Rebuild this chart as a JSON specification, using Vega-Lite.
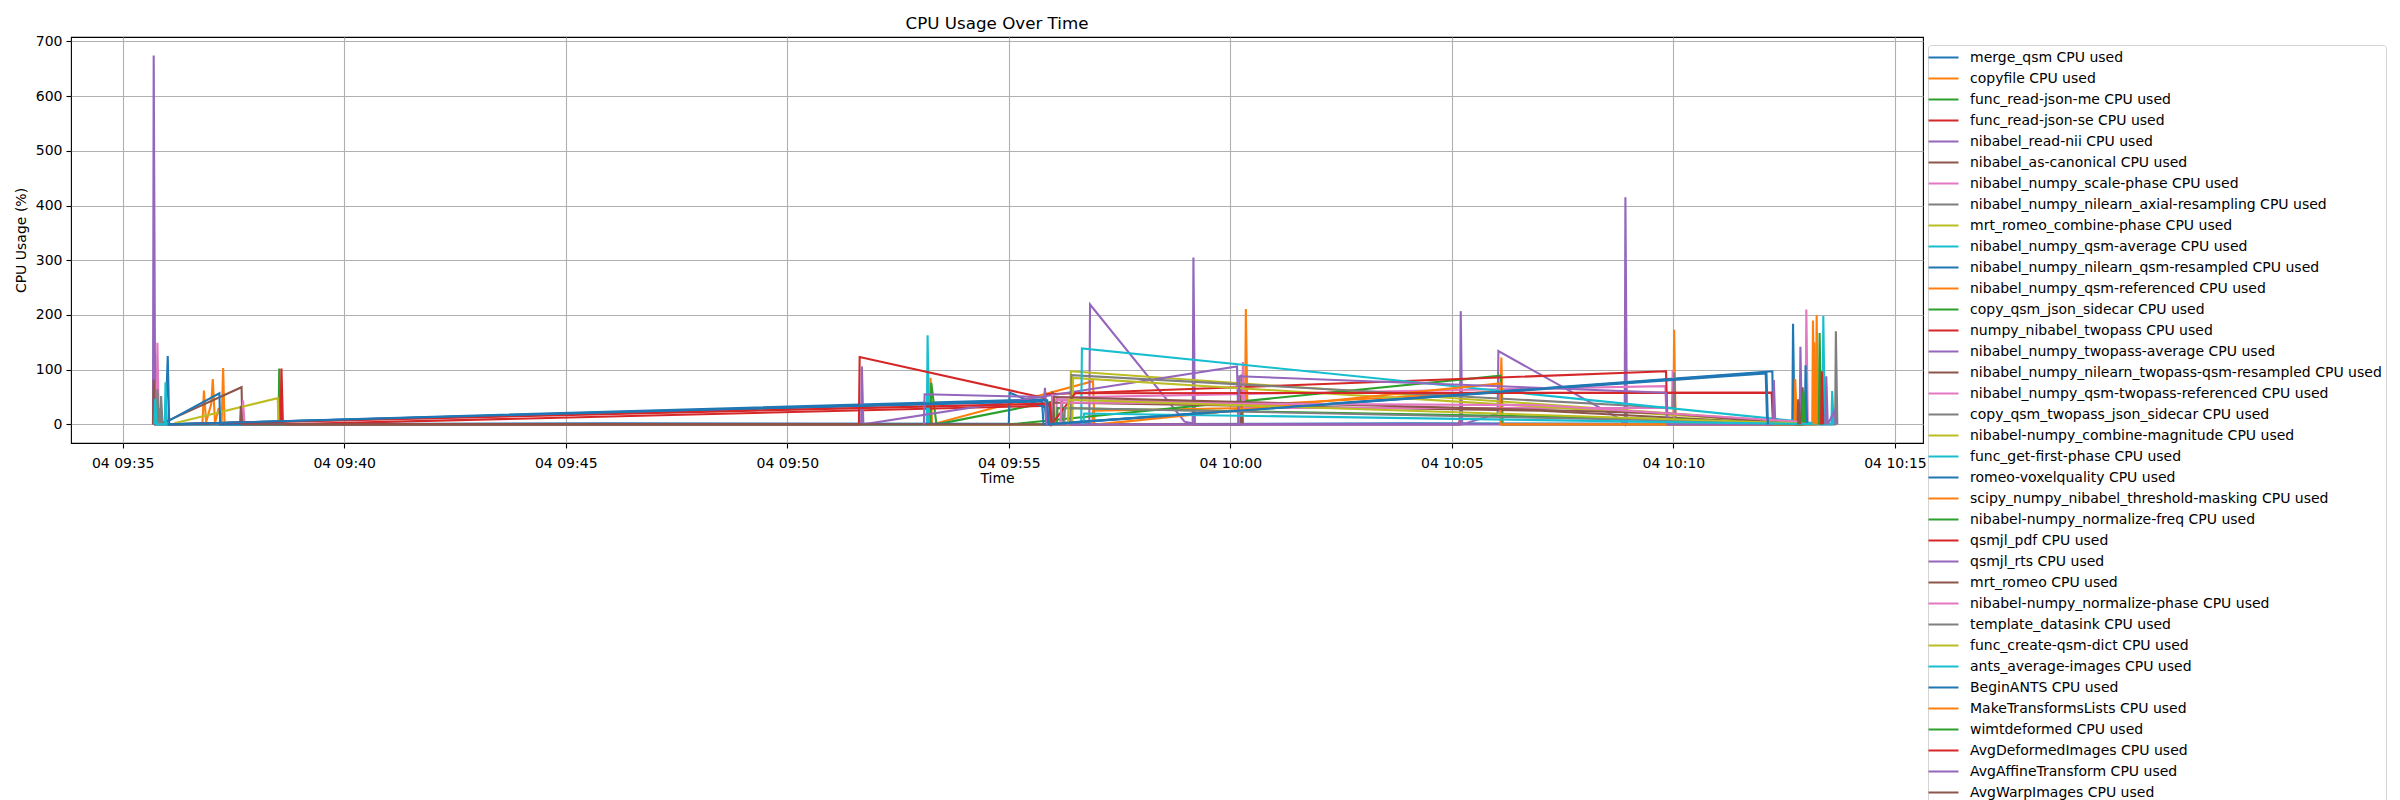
{
  "$schema": "https://vega.github.io/schema/vega-lite/v6.json",
  "width": 1852,
  "height": 406,
  "autosize": "none",
  "padding": {"left": 71, "top": 37, "right": 477, "bottom": 357},
  "background": "white",
  "title": {"text": "CPU Usage Over Time", "fontSize": 16.7, "font": "DejaVu Sans", "fontWeight": "normal", "color": "black", "offset": 2},
  "config": {
    "font": "DejaVu Sans",
    "view": {"stroke": "black", "strokeWidth": 1.1}
  },
  "data": {"values": [
    {"s":"merge_qsm CPU used","t":"2024-01-04T09:35:58","v":0,"i":1},
    {"s":"merge_qsm CPU used","t":"2024-01-04T09:36:01","v":125,"i":2},
    {"s":"merge_qsm CPU used","t":"2024-01-04T09:36:03","v":0,"i":3},
    {"s":"merge_qsm CPU used","t":"2024-01-04T09:55:50","v":46,"i":4},
    {"s":"merge_qsm CPU used","t":"2024-01-04T09:55:53","v":0,"i":5},
    {"s":"merge_qsm CPU used","t":"2024-01-04T10:04:00","v":2,"i":6},
    {"s":"merge_qsm CPU used","t":"2024-01-04T10:12:41","v":1,"i":7},
    {"s":"merge_qsm CPU used","t":"2024-01-04T10:12:42","v":184,"i":8},
    {"s":"merge_qsm CPU used","t":"2024-01-04T10:12:44","v":0,"i":9},

    {"s":"copyfile CPU used","t":"2024-01-04T09:36:04","v":0,"i":10},
    {"s":"copyfile CPU used","t":"2024-01-04T09:36:48","v":0,"i":11},
    {"s":"copyfile CPU used","t":"2024-01-04T09:36:50","v":62,"i":12},
    {"s":"copyfile CPU used","t":"2024-01-04T09:36:53","v":4,"i":13},
    {"s":"copyfile CPU used","t":"2024-01-04T09:37:00","v":38,"i":14},
    {"s":"copyfile CPU used","t":"2024-01-04T09:37:02","v":83,"i":15},
    {"s":"copyfile CPU used","t":"2024-01-04T09:37:05","v":2,"i":16},
    {"s":"copyfile CPU used","t":"2024-01-04T09:37:10","v":30,"i":17},
    {"s":"copyfile CPU used","t":"2024-01-04T09:37:14","v":0,"i":18},
    {"s":"copyfile CPU used","t":"2024-01-04T09:37:16","v":103,"i":19},
    {"s":"copyfile CPU used","t":"2024-01-04T09:37:18","v":0,"i":20},
    {"s":"copyfile CPU used","t":"2024-01-04T09:53:13","v":0,"i":21},
    {"s":"copyfile CPU used","t":"2024-01-04T09:53:14","v":85,"i":22},
    {"s":"copyfile CPU used","t":"2024-01-04T09:53:16","v":0,"i":23},
    {"s":"copyfile CPU used","t":"2024-01-04T09:56:54","v":79,"i":24},
    {"s":"copyfile CPU used","t":"2024-01-04T09:56:56","v":0,"i":25},

    {"s":"func_read-json-me CPU used","t":"2024-01-04T09:35:43","v":0,"i":30},
    {"s":"func_read-json-me CPU used","t":"2024-01-04T09:35:44","v":128,"i":31},
    {"s":"func_read-json-me CPU used","t":"2024-01-04T09:35:46","v":0,"i":32},
    {"s":"func_read-json-me CPU used","t":"2024-01-04T09:38:31","v":0,"i":33},
    {"s":"func_read-json-me CPU used","t":"2024-01-04T09:38:32","v":102,"i":34},
    {"s":"func_read-json-me CPU used","t":"2024-01-04T09:38:34","v":0,"i":35},
    {"s":"func_read-json-me CPU used","t":"2024-01-04T09:53:14","v":0,"i":36},
    {"s":"func_read-json-me CPU used","t":"2024-01-04T09:53:15","v":76,"i":37},
    {"s":"func_read-json-me CPU used","t":"2024-01-04T09:53:22","v":0,"i":38},
    {"s":"func_read-json-me CPU used","t":"2024-01-04T09:56:00","v":42,"i":39},
    {"s":"func_read-json-me CPU used","t":"2024-01-04T09:56:02","v":0,"i":40},

    {"s":"func_read-json-se CPU used","t":"2024-01-04T09:35:48","v":0,"i":50},
    {"s":"func_read-json-se CPU used","t":"2024-01-04T09:35:49","v":30,"i":51},
    {"s":"func_read-json-se CPU used","t":"2024-01-04T09:35:51","v":0,"i":52},
    {"s":"func_read-json-se CPU used","t":"2024-01-04T09:38:34","v":0,"i":53},
    {"s":"func_read-json-se CPU used","t":"2024-01-04T09:38:35","v":102,"i":54},
    {"s":"func_read-json-se CPU used","t":"2024-01-04T09:38:37","v":0,"i":55},
    {"s":"func_read-json-se CPU used","t":"2024-01-04T09:55:55","v":34,"i":56},
    {"s":"func_read-json-se CPU used","t":"2024-01-04T09:55:57","v":0,"i":57},
    {"s":"func_read-json-se CPU used","t":"2024-01-04T10:05:10","v":0,"i":58},
    {"s":"func_read-json-se CPU used","t":"2024-01-04T10:05:11","v":15,"i":59},
    {"s":"func_read-json-se CPU used","t":"2024-01-04T10:05:12","v":0,"i":60},

    {"s":"nibabel_read-nii CPU used","t":"2024-01-04T09:35:41","v":0,"i":70},
    {"s":"nibabel_read-nii CPU used","t":"2024-01-04T09:35:42","v":674,"i":71},
    {"s":"nibabel_read-nii CPU used","t":"2024-01-04T09:35:43","v":350,"i":72},
    {"s":"nibabel_read-nii CPU used","t":"2024-01-04T09:35:44","v":0,"i":73},
    {"s":"nibabel_read-nii CPU used","t":"2024-01-04T09:56:49","v":0,"i":74},
    {"s":"nibabel_read-nii CPU used","t":"2024-01-04T09:56:50","v":219,"i":75},
    {"s":"nibabel_read-nii CPU used","t":"2024-01-04T09:58:58","v":5,"i":76},
    {"s":"nibabel_read-nii CPU used","t":"2024-01-04T09:59:09","v":2,"i":77},
    {"s":"nibabel_read-nii CPU used","t":"2024-01-04T09:59:10","v":305,"i":78},
    {"s":"nibabel_read-nii CPU used","t":"2024-01-04T09:59:12","v":0,"i":79},
    {"s":"nibabel_read-nii CPU used","t":"2024-01-04T10:05:11","v":0,"i":80},
    {"s":"nibabel_read-nii CPU used","t":"2024-01-04T10:05:12","v":207,"i":81},
    {"s":"nibabel_read-nii CPU used","t":"2024-01-04T10:05:14","v":0,"i":82},
    {"s":"nibabel_read-nii CPU used","t":"2024-01-04T10:06:02","v":20,"i":83},
    {"s":"nibabel_read-nii CPU used","t":"2024-01-04T10:06:03","v":134,"i":84},
    {"s":"nibabel_read-nii CPU used","t":"2024-01-04T10:08:45","v":12,"i":85},
    {"s":"nibabel_read-nii CPU used","t":"2024-01-04T10:08:54","v":0,"i":86},
    {"s":"nibabel_read-nii CPU used","t":"2024-01-04T10:08:55","v":415,"i":87},
    {"s":"nibabel_read-nii CPU used","t":"2024-01-04T10:08:57","v":0,"i":88},

    {"s":"nibabel_as-canonical CPU used","t":"2024-01-04T09:35:41","v":0,"i":100},
    {"s":"nibabel_as-canonical CPU used","t":"2024-01-04T09:35:42","v":82,"i":101},
    {"s":"nibabel_as-canonical CPU used","t":"2024-01-04T09:35:44","v":0,"i":102},
    {"s":"nibabel_as-canonical CPU used","t":"2024-01-04T09:36:00","v":6,"i":103},
    {"s":"nibabel_as-canonical CPU used","t":"2024-01-04T09:37:41","v":68,"i":104},
    {"s":"nibabel_as-canonical CPU used","t":"2024-01-04T09:37:42","v":0,"i":105},
    {"s":"nibabel_as-canonical CPU used","t":"2024-01-04T09:55:58","v":0,"i":106},
    {"s":"nibabel_as-canonical CPU used","t":"2024-01-04T09:55:59","v":60,"i":107},
    {"s":"nibabel_as-canonical CPU used","t":"2024-01-04T09:56:01","v":0,"i":108},
    {"s":"nibabel_as-canonical CPU used","t":"2024-01-04T10:00:14","v":0,"i":109},
    {"s":"nibabel_as-canonical CPU used","t":"2024-01-04T10:00:15","v":91,"i":110},
    {"s":"nibabel_as-canonical CPU used","t":"2024-01-04T10:00:17","v":0,"i":111},

    {"s":"nibabel_numpy_scale-phase CPU used","t":"2024-01-04T09:35:46","v":0,"i":120},
    {"s":"nibabel_numpy_scale-phase CPU used","t":"2024-01-04T09:35:47","v":149,"i":121},
    {"s":"nibabel_numpy_scale-phase CPU used","t":"2024-01-04T09:35:49","v":0,"i":122},
    {"s":"nibabel_numpy_scale-phase CPU used","t":"2024-01-04T09:37:42","v":0,"i":123},
    {"s":"nibabel_numpy_scale-phase CPU used","t":"2024-01-04T09:37:43","v":44,"i":124},
    {"s":"nibabel_numpy_scale-phase CPU used","t":"2024-01-04T09:37:45","v":0,"i":125},
    {"s":"nibabel_numpy_scale-phase CPU used","t":"2024-01-04T09:56:04","v":0,"i":126},
    {"s":"nibabel_numpy_scale-phase CPU used","t":"2024-01-04T09:56:05","v":49,"i":127},
    {"s":"nibabel_numpy_scale-phase CPU used","t":"2024-01-04T10:09:49","v":70,"i":128},
    {"s":"nibabel_numpy_scale-phase CPU used","t":"2024-01-04T10:09:51","v":0,"i":129},

    {"s":"nibabel_numpy_nilearn_axial-resampling CPU used","t":"2024-01-04T09:35:46","v":0,"i":140},
    {"s":"nibabel_numpy_nilearn_axial-resampling CPU used","t":"2024-01-04T09:35:47","v":64,"i":141},
    {"s":"nibabel_numpy_nilearn_axial-resampling CPU used","t":"2024-01-04T09:35:49","v":0,"i":142},
    {"s":"nibabel_numpy_nilearn_axial-resampling CPU used","t":"2024-01-04T09:35:51","v":0,"i":143},
    {"s":"nibabel_numpy_nilearn_axial-resampling CPU used","t":"2024-01-04T09:35:52","v":52,"i":144},
    {"s":"nibabel_numpy_nilearn_axial-resampling CPU used","t":"2024-01-04T09:35:54","v":0,"i":145},
    {"s":"nibabel_numpy_nilearn_axial-resampling CPU used","t":"2024-01-04T09:56:10","v":0,"i":146},
    {"s":"nibabel_numpy_nilearn_axial-resampling CPU used","t":"2024-01-04T09:56:12","v":45,"i":147},
    {"s":"nibabel_numpy_nilearn_axial-resampling CPU used","t":"2024-01-04T09:56:14","v":0,"i":148},

    {"s":"mrt_romeo_combine-phase CPU used","t":"2024-01-04T09:36:10","v":2,"i":160},
    {"s":"mrt_romeo_combine-phase CPU used","t":"2024-01-04T09:38:30","v":48,"i":161},
    {"s":"mrt_romeo_combine-phase CPU used","t":"2024-01-04T09:38:31","v":0,"i":162},
    {"s":"mrt_romeo_combine-phase CPU used","t":"2024-01-04T09:56:23","v":0,"i":163},
    {"s":"mrt_romeo_combine-phase CPU used","t":"2024-01-04T09:56:24","v":97,"i":164},
    {"s":"mrt_romeo_combine-phase CPU used","t":"2024-01-04T10:12:45","v":4,"i":165},
    {"s":"mrt_romeo_combine-phase CPU used","t":"2024-01-04T10:12:47","v":0,"i":166},

    {"s":"nibabel_numpy_qsm-average CPU used","t":"2024-01-04T09:35:43","v":0,"i":180},
    {"s":"nibabel_numpy_qsm-average CPU used","t":"2024-01-04T09:35:44","v":47,"i":181},
    {"s":"nibabel_numpy_qsm-average CPU used","t":"2024-01-04T09:35:46","v":0,"i":182},
    {"s":"nibabel_numpy_qsm-average CPU used","t":"2024-01-04T09:35:57","v":0,"i":183},
    {"s":"nibabel_numpy_qsm-average CPU used","t":"2024-01-04T09:35:58","v":77,"i":184},
    {"s":"nibabel_numpy_qsm-average CPU used","t":"2024-01-04T09:36:00","v":0,"i":185},
    {"s":"nibabel_numpy_qsm-average CPU used","t":"2024-01-04T09:53:09","v":0,"i":186},
    {"s":"nibabel_numpy_qsm-average CPU used","t":"2024-01-04T09:53:10","v":163,"i":187},
    {"s":"nibabel_numpy_qsm-average CPU used","t":"2024-01-04T09:53:12","v":0,"i":188},

    {"s":"nibabel_numpy_nilearn_qsm-resampled CPU used","t":"2024-01-04T09:36:00","v":5,"i":200},
    {"s":"nibabel_numpy_nilearn_qsm-resampled CPU used","t":"2024-01-04T09:37:11","v":57,"i":201},
    {"s":"nibabel_numpy_nilearn_qsm-resampled CPU used","t":"2024-01-04T09:37:12","v":0,"i":202},
    {"s":"nibabel_numpy_nilearn_qsm-resampled CPU used","t":"2024-01-04T09:46:00","v":2,"i":203},
    {"s":"nibabel_numpy_nilearn_qsm-resampled CPU used","t":"2024-01-04T09:55:00","v":1,"i":204},
    {"s":"nibabel_numpy_nilearn_qsm-resampled CPU used","t":"2024-01-04T09:55:01","v":58,"i":205},
    {"s":"nibabel_numpy_nilearn_qsm-resampled CPU used","t":"2024-01-04T09:55:49","v":31,"i":206},
    {"s":"nibabel_numpy_nilearn_qsm-resampled CPU used","t":"2024-01-04T09:55:51","v":0,"i":207},
    {"s":"nibabel_numpy_nilearn_qsm-resampled CPU used","t":"2024-01-04T10:12:14","v":97,"i":208},
    {"s":"nibabel_numpy_nilearn_qsm-resampled CPU used","t":"2024-01-04T10:12:15","v":0,"i":209},

    {"s":"nibabel_numpy_qsm-referenced CPU used","t":"2024-01-04T09:56:53","v":0,"i":220},
    {"s":"nibabel_numpy_qsm-referenced CPU used","t":"2024-01-04T09:56:54","v":25,"i":221},
    {"s":"nibabel_numpy_qsm-referenced CPU used","t":"2024-01-04T10:00:20","v":30,"i":222},
    {"s":"nibabel_numpy_qsm-referenced CPU used","t":"2024-01-04T10:00:21","v":211,"i":223},
    {"s":"nibabel_numpy_qsm-referenced CPU used","t":"2024-01-04T10:00:23","v":35,"i":224},
    {"s":"nibabel_numpy_qsm-referenced CPU used","t":"2024-01-04T10:06:06","v":60,"i":225},
    {"s":"nibabel_numpy_qsm-referenced CPU used","t":"2024-01-04T10:06:07","v":122,"i":226},
    {"s":"nibabel_numpy_qsm-referenced CPU used","t":"2024-01-04T10:06:09","v":0,"i":227},
    {"s":"nibabel_numpy_qsm-referenced CPU used","t":"2024-01-04T10:10:00","v":0,"i":228},
    {"s":"nibabel_numpy_qsm-referenced CPU used","t":"2024-01-04T10:10:01","v":173,"i":229},
    {"s":"nibabel_numpy_qsm-referenced CPU used","t":"2024-01-04T10:10:03","v":0,"i":230},
    {"s":"nibabel_numpy_qsm-referenced CPU used","t":"2024-01-04T10:13:08","v":0,"i":231},
    {"s":"nibabel_numpy_qsm-referenced CPU used","t":"2024-01-04T10:13:09","v":190,"i":232},
    {"s":"nibabel_numpy_qsm-referenced CPU used","t":"2024-01-04T10:13:11","v":0,"i":233},

    {"s":"copy_qsm_json_sidecar CPU used","t":"2024-01-04T09:55:00","v":0,"i":240},
    {"s":"copy_qsm_json_sidecar CPU used","t":"2024-01-04T10:06:06","v":89,"i":241},
    {"s":"copy_qsm_json_sidecar CPU used","t":"2024-01-04T10:06:08","v":0,"i":242},
    {"s":"copy_qsm_json_sidecar CPU used","t":"2024-01-04T10:12:51","v":0,"i":243},
    {"s":"copy_qsm_json_sidecar CPU used","t":"2024-01-04T10:12:52","v":91,"i":244},
    {"s":"copy_qsm_json_sidecar CPU used","t":"2024-01-04T10:12:54","v":0,"i":245},

    {"s":"numpy_nibabel_twopass CPU used","t":"2024-01-04T09:38:40","v":0,"i":260},
    {"s":"numpy_nibabel_twopass CPU used","t":"2024-01-04T09:51:37","v":0,"i":261},
    {"s":"numpy_nibabel_twopass CPU used","t":"2024-01-04T09:51:38","v":123,"i":262},
    {"s":"numpy_nibabel_twopass CPU used","t":"2024-01-04T09:55:49","v":48,"i":263},
    {"s":"numpy_nibabel_twopass CPU used","t":"2024-01-04T09:55:51","v":55,"i":264},
    {"s":"numpy_nibabel_twopass CPU used","t":"2024-01-04T10:09:50","v":97,"i":265},
    {"s":"numpy_nibabel_twopass CPU used","t":"2024-01-04T10:09:52","v":0,"i":266},

    {"s":"nibabel_numpy_twopass-average CPU used","t":"2024-01-04T09:51:40","v":0,"i":280},
    {"s":"nibabel_numpy_twopass-average CPU used","t":"2024-01-04T09:51:41","v":106,"i":281},
    {"s":"nibabel_numpy_twopass-average CPU used","t":"2024-01-04T09:51:43","v":0,"i":282},
    {"s":"nibabel_numpy_twopass-average CPU used","t":"2024-01-04T10:00:09","v":106,"i":283},
    {"s":"nibabel_numpy_twopass-average CPU used","t":"2024-01-04T10:00:11","v":0,"i":284},
    {"s":"nibabel_numpy_twopass-average CPU used","t":"2024-01-04T10:12:51","v":0,"i":285},
    {"s":"nibabel_numpy_twopass-average CPU used","t":"2024-01-04T10:12:52","v":142,"i":286},
    {"s":"nibabel_numpy_twopass-average CPU used","t":"2024-01-04T10:12:54","v":0,"i":287},

    {"s":"nibabel_numpy_nilearn_twopass-qsm-resampled CPU used","t":"2024-01-04T09:37:39","v":0,"i":300},
    {"s":"nibabel_numpy_nilearn_twopass-qsm-resampled CPU used","t":"2024-01-04T09:37:40","v":34,"i":301},
    {"s":"nibabel_numpy_nilearn_twopass-qsm-resampled CPU used","t":"2024-01-04T09:37:42","v":0,"i":302},
    {"s":"nibabel_numpy_nilearn_twopass-qsm-resampled CPU used","t":"2024-01-04T09:55:56","v":0,"i":303},
    {"s":"nibabel_numpy_nilearn_twopass-qsm-resampled CPU used","t":"2024-01-04T09:55:57","v":40,"i":304},
    {"s":"nibabel_numpy_nilearn_twopass-qsm-resampled CPU used","t":"2024-01-04T10:07:00","v":25,"i":305},
    {"s":"nibabel_numpy_nilearn_twopass-qsm-resampled CPU used","t":"2024-01-04T10:12:54","v":0,"i":306},
    {"s":"nibabel_numpy_nilearn_twopass-qsm-resampled CPU used","t":"2024-01-04T10:12:55","v":68,"i":307},
    {"s":"nibabel_numpy_nilearn_twopass-qsm-resampled CPU used","t":"2024-01-04T10:12:57","v":0,"i":308},

    {"s":"nibabel_numpy_qsm-twopass-referenced CPU used","t":"2024-01-04T09:55:58","v":0,"i":320},
    {"s":"nibabel_numpy_qsm-twopass-referenced CPU used","t":"2024-01-04T09:55:59","v":55,"i":321},
    {"s":"nibabel_numpy_qsm-twopass-referenced CPU used","t":"2024-01-04T09:56:01","v":45,"i":322},
    {"s":"nibabel_numpy_qsm-twopass-referenced CPU used","t":"2024-01-04T10:00:16","v":40,"i":323},
    {"s":"nibabel_numpy_qsm-twopass-referenced CPU used","t":"2024-01-04T10:00:17","v":114,"i":324},
    {"s":"nibabel_numpy_qsm-twopass-referenced CPU used","t":"2024-01-04T10:00:19","v":30,"i":325},
    {"s":"nibabel_numpy_qsm-twopass-referenced CPU used","t":"2024-01-04T10:09:58","v":30,"i":326},
    {"s":"nibabel_numpy_qsm-twopass-referenced CPU used","t":"2024-01-04T10:09:59","v":100,"i":327},
    {"s":"nibabel_numpy_qsm-twopass-referenced CPU used","t":"2024-01-04T10:10:01","v":0,"i":328},
    {"s":"nibabel_numpy_qsm-twopass-referenced CPU used","t":"2024-01-04T10:12:59","v":0,"i":329},
    {"s":"nibabel_numpy_qsm-twopass-referenced CPU used","t":"2024-01-04T10:13:00","v":210,"i":330},
    {"s":"nibabel_numpy_qsm-twopass-referenced CPU used","t":"2024-01-04T10:13:02","v":0,"i":331},

    {"s":"copy_qsm_twopass_json_sidecar CPU used","t":"2024-01-04T09:56:24","v":0,"i":340},
    {"s":"copy_qsm_twopass_json_sidecar CPU used","t":"2024-01-04T09:56:25","v":90,"i":341},
    {"s":"copy_qsm_twopass_json_sidecar CPU used","t":"2024-01-04T10:10:00","v":30,"i":342},
    {"s":"copy_qsm_twopass_json_sidecar CPU used","t":"2024-01-04T10:10:01","v":95,"i":343},
    {"s":"copy_qsm_twopass_json_sidecar CPU used","t":"2024-01-04T10:10:03","v":0,"i":344},
    {"s":"copy_qsm_twopass_json_sidecar CPU used","t":"2024-01-04T10:13:39","v":0,"i":345},
    {"s":"copy_qsm_twopass_json_sidecar CPU used","t":"2024-01-04T10:13:40","v":170,"i":346},
    {"s":"copy_qsm_twopass_json_sidecar CPU used","t":"2024-01-04T10:13:42","v":0,"i":347},

    {"s":"nibabel-numpy_combine-magnitude CPU used","t":"2024-01-04T09:56:26","v":0,"i":360},
    {"s":"nibabel-numpy_combine-magnitude CPU used","t":"2024-01-04T09:56:27","v":85,"i":361},
    {"s":"nibabel-numpy_combine-magnitude CPU used","t":"2024-01-04T10:12:50","v":3,"i":362},
    {"s":"nibabel-numpy_combine-magnitude CPU used","t":"2024-01-04T10:12:52","v":0,"i":363},

    {"s":"func_get-first-phase CPU used","t":"2024-01-04T09:56:38","v":0,"i":380},
    {"s":"func_get-first-phase CPU used","t":"2024-01-04T09:56:39","v":139,"i":381},
    {"s":"func_get-first-phase CPU used","t":"2024-01-04T10:12:40","v":7,"i":382},
    {"s":"func_get-first-phase CPU used","t":"2024-01-04T10:13:22","v":0,"i":383},
    {"s":"func_get-first-phase CPU used","t":"2024-01-04T10:13:23","v":198,"i":384},
    {"s":"func_get-first-phase CPU used","t":"2024-01-04T10:13:25","v":0,"i":385},

    {"s":"romeo-voxelquality CPU used","t":"2024-01-04T09:36:01","v":0,"i":400},
    {"s":"romeo-voxelquality CPU used","t":"2024-01-04T09:55:45","v":42,"i":401},
    {"s":"romeo-voxelquality CPU used","t":"2024-01-04T09:55:47","v":0,"i":402},
    {"s":"romeo-voxelquality CPU used","t":"2024-01-04T10:12:05","v":93,"i":403},
    {"s":"romeo-voxelquality CPU used","t":"2024-01-04T10:12:07","v":0,"i":404},
    {"s":"romeo-voxelquality CPU used","t":"2024-01-04T10:12:58","v":0,"i":405},
    {"s":"romeo-voxelquality CPU used","t":"2024-01-04T10:12:59","v":108,"i":406},
    {"s":"romeo-voxelquality CPU used","t":"2024-01-04T10:13:01","v":0,"i":407},

    {"s":"scipy_numpy_nibabel_threshold-masking CPU used","t":"2024-01-04T09:57:00","v":0,"i":420},
    {"s":"scipy_numpy_nibabel_threshold-masking CPU used","t":"2024-01-04T10:06:05","v":75,"i":421},
    {"s":"scipy_numpy_nibabel_threshold-masking CPU used","t":"2024-01-04T10:06:06","v":0,"i":422},
    {"s":"scipy_numpy_nibabel_threshold-masking CPU used","t":"2024-01-04T10:12:44","v":0,"i":423},
    {"s":"scipy_numpy_nibabel_threshold-masking CPU used","t":"2024-01-04T10:12:45","v":83,"i":424},
    {"s":"scipy_numpy_nibabel_threshold-masking CPU used","t":"2024-01-04T10:12:47","v":0,"i":425},
    {"s":"scipy_numpy_nibabel_threshold-masking CPU used","t":"2024-01-04T10:13:13","v":0,"i":426},
    {"s":"scipy_numpy_nibabel_threshold-masking CPU used","t":"2024-01-04T10:13:14","v":200,"i":427},
    {"s":"scipy_numpy_nibabel_threshold-masking CPU used","t":"2024-01-04T10:13:16","v":0,"i":428},

    {"s":"nibabel-numpy_normalize-freq CPU used","t":"2024-01-04T09:56:05","v":0,"i":440},
    {"s":"nibabel-numpy_normalize-freq CPU used","t":"2024-01-04T09:56:06","v":30,"i":441},
    {"s":"nibabel-numpy_normalize-freq CPU used","t":"2024-01-04T10:09:58","v":10,"i":442},
    {"s":"nibabel-numpy_normalize-freq CPU used","t":"2024-01-04T10:12:55","v":0,"i":443},
    {"s":"nibabel-numpy_normalize-freq CPU used","t":"2024-01-04T10:12:56","v":60,"i":444},
    {"s":"nibabel-numpy_normalize-freq CPU used","t":"2024-01-04T10:12:58","v":0,"i":445},

    {"s":"qsmjl_pdf CPU used","t":"2024-01-04T09:36:05","v":0,"i":460},
    {"s":"qsmjl_pdf CPU used","t":"2024-01-04T09:55:56","v":38,"i":461},
    {"s":"qsmjl_pdf CPU used","t":"2024-01-04T09:55:58","v":0,"i":462},
    {"s":"qsmjl_pdf CPU used","t":"2024-01-04T09:56:30","v":57,"i":463},
    {"s":"qsmjl_pdf CPU used","t":"2024-01-04T10:12:13","v":58,"i":464},
    {"s":"qsmjl_pdf CPU used","t":"2024-01-04T10:12:15","v":0,"i":465},

    {"s":"qsmjl_rts CPU used","t":"2024-01-04T09:53:05","v":0,"i":480},
    {"s":"qsmjl_rts CPU used","t":"2024-01-04T09:53:06","v":55,"i":481},
    {"s":"qsmjl_rts CPU used","t":"2024-01-04T09:55:48","v":50,"i":482},
    {"s":"qsmjl_rts CPU used","t":"2024-01-04T09:55:49","v":67,"i":483},
    {"s":"qsmjl_rts CPU used","t":"2024-01-04T09:55:51","v":0,"i":484},
    {"s":"qsmjl_rts CPU used","t":"2024-01-04T10:00:11","v":0,"i":485},
    {"s":"qsmjl_rts CPU used","t":"2024-01-04T10:00:12","v":88,"i":486},
    {"s":"qsmjl_rts CPU used","t":"2024-01-04T10:09:50","v":58,"i":487},
    {"s":"qsmjl_rts CPU used","t":"2024-01-04T10:09:52","v":0,"i":488},
    {"s":"qsmjl_rts CPU used","t":"2024-01-04T10:12:15","v":0,"i":489},
    {"s":"qsmjl_rts CPU used","t":"2024-01-04T10:12:16","v":81,"i":490},
    {"s":"qsmjl_rts CPU used","t":"2024-01-04T10:12:18","v":0,"i":491},

    {"s":"mrt_romeo CPU used","t":"2024-01-04T09:56:00","v":0,"i":500},
    {"s":"mrt_romeo CPU used","t":"2024-01-04T09:56:01","v":50,"i":501},
    {"s":"mrt_romeo CPU used","t":"2024-01-04T10:09:55","v":20,"i":502},
    {"s":"mrt_romeo CPU used","t":"2024-01-04T10:12:48","v":0,"i":503},
    {"s":"mrt_romeo CPU used","t":"2024-01-04T10:12:49","v":46,"i":504},
    {"s":"mrt_romeo CPU used","t":"2024-01-04T10:12:51","v":0,"i":505},

    {"s":"nibabel-numpy_normalize-phase CPU used","t":"2024-01-04T09:56:10","v":0,"i":520},
    {"s":"nibabel-numpy_normalize-phase CPU used","t":"2024-01-04T09:56:11","v":40,"i":521},
    {"s":"nibabel-numpy_normalize-phase CPU used","t":"2024-01-04T10:07:00","v":35,"i":522},
    {"s":"nibabel-numpy_normalize-phase CPU used","t":"2024-01-04T10:12:50","v":5,"i":523},
    {"s":"nibabel-numpy_normalize-phase CPU used","t":"2024-01-04T10:12:52","v":0,"i":524},

    {"s":"template_datasink CPU used","t":"2024-01-04T09:56:15","v":0,"i":540},
    {"s":"template_datasink CPU used","t":"2024-01-04T09:56:16","v":30,"i":541},
    {"s":"template_datasink CPU used","t":"2024-01-04T10:13:00","v":2,"i":542},

    {"s":"func_create-qsm-dict CPU used","t":"2024-01-04T09:56:20","v":0,"i":560},
    {"s":"func_create-qsm-dict CPU used","t":"2024-01-04T09:56:21","v":45,"i":561},
    {"s":"func_create-qsm-dict CPU used","t":"2024-01-04T10:12:50","v":2,"i":562},

    {"s":"ants_average-images CPU used","t":"2024-01-04T09:56:41","v":0,"i":580},
    {"s":"ants_average-images CPU used","t":"2024-01-04T09:56:42","v":20,"i":581},
    {"s":"ants_average-images CPU used","t":"2024-01-04T10:13:34","v":0,"i":582},
    {"s":"ants_average-images CPU used","t":"2024-01-04T10:13:35","v":61,"i":583},
    {"s":"ants_average-images CPU used","t":"2024-01-04T10:13:37","v":0,"i":584},

    {"s":"BeginANTS CPU used","t":"2024-01-04T09:36:01","v":0,"i":600},
    {"s":"BeginANTS CPU used","t":"2024-01-04T09:55:52","v":44,"i":601},
    {"s":"BeginANTS CPU used","t":"2024-01-04T09:55:54","v":0,"i":602},
    {"s":"BeginANTS CPU used","t":"2024-01-04T10:12:06","v":95,"i":603},
    {"s":"BeginANTS CPU used","t":"2024-01-04T10:12:08","v":0,"i":604},

    {"s":"MakeTransformsLists CPU used","t":"2024-01-04T10:13:10","v":0,"i":620},
    {"s":"MakeTransformsLists CPU used","t":"2024-01-04T10:13:11","v":150,"i":621},
    {"s":"MakeTransformsLists CPU used","t":"2024-01-04T10:13:13","v":0,"i":622},

    {"s":"wimtdeformed CPU used","t":"2024-01-04T10:13:17","v":0,"i":640},
    {"s":"wimtdeformed CPU used","t":"2024-01-04T10:13:18","v":167,"i":641},
    {"s":"wimtdeformed CPU used","t":"2024-01-04T10:13:20","v":0,"i":642},

    {"s":"AvgDeformedImages CPU used","t":"2024-01-04T10:13:20","v":0,"i":660},
    {"s":"AvgDeformedImages CPU used","t":"2024-01-04T10:13:21","v":97,"i":661},
    {"s":"AvgDeformedImages CPU used","t":"2024-01-04T10:13:23","v":0,"i":662},

    {"s":"AvgAffineTransform CPU used","t":"2024-01-04T10:13:26","v":0,"i":680},
    {"s":"AvgAffineTransform CPU used","t":"2024-01-04T10:13:27","v":88,"i":681},
    {"s":"AvgAffineTransform CPU used","t":"2024-01-04T10:13:29","v":0,"i":682},
    {"s":"AvgAffineTransform CPU used","t":"2024-01-04T10:13:38","v":24,"i":683},
    {"s":"AvgAffineTransform CPU used","t":"2024-01-04T10:13:40","v":0,"i":684},

    {"s":"AvgWarpImages CPU used","t":"2024-01-04T10:12:49","v":0,"i":700},
    {"s":"AvgWarpImages CPU used","t":"2024-01-04T10:12:50","v":40,"i":701},
    {"s":"AvgWarpImages CPU used","t":"2024-01-04T10:12:52","v":0,"i":702}
  ]},
  "mark": {"type": "line", "strokeWidth": 2.1, "clip": true},
  "encoding": {
    "x": {
      "field": "t", "type": "temporal", "title": "Time",
      "scale": {"domain": [
        {"year": 2024, "month": 1, "date": 4, "hours": 9, "minutes": 33, "seconds": 50},
        {"year": 2024, "month": 1, "date": 4, "hours": 10, "minutes": 15, "seconds": 38}
      ], "nice": false},
      "axis": {
        "values": [
          {"year": 2024, "month": 1, "date": 4, "hours": 9, "minutes": 35},
          {"year": 2024, "month": 1, "date": 4, "hours": 9, "minutes": 40},
          {"year": 2024, "month": 1, "date": 4, "hours": 9, "minutes": 45},
          {"year": 2024, "month": 1, "date": 4, "hours": 9, "minutes": 50},
          {"year": 2024, "month": 1, "date": 4, "hours": 9, "minutes": 55},
          {"year": 2024, "month": 1, "date": 4, "hours": 10, "minutes": 0},
          {"year": 2024, "month": 1, "date": 4, "hours": 10, "minutes": 5},
          {"year": 2024, "month": 1, "date": 4, "hours": 10, "minutes": 10},
          {"year": 2024, "month": 1, "date": 4, "hours": 10, "minutes": 15}
        ],
        "format": "%d %H:%M",
        "labelFontSize": 14, "labelColor": "black", "labelFont": "DejaVu Sans",
        "labelFlush": false, "labelOverlap": false, "labelPadding": 8,
        "tickColor": "black", "tickSize": 5, "tickWidth": 1.1,
        "grid": true, "gridColor": "#b0b0b0", "gridWidth": 1.1,
        "domain": false,
        "titleFontSize": 14, "titleFontWeight": "normal", "titleColor": "black", "titleFont": "DejaVu Sans", "titlePadding": 1
      }
    },
    "y": {
      "field": "v", "type": "quantitative", "title": "CPU Usage (%)",
      "scale": {"domain": [-34, 708], "nice": false, "zero": false},
      "axis": {
        "values": [0, 100, 200, 300, 400, 500, 600, 700],
        "labelFontSize": 14, "labelColor": "black", "labelFont": "DejaVu Sans", "labelPadding": 4,
        "tickColor": "black", "tickSize": 5, "tickWidth": 1.1,
        "grid": true, "gridColor": "#b0b0b0", "gridWidth": 1.1,
        "domain": false,
        "titleFontSize": 14, "titleFontWeight": "normal", "titleColor": "black", "titleFont": "DejaVu Sans", "titlePadding": 7
      }
    },
    "color": {
      "field": "s", "type": "nominal",
      "scale": {
        "domain": ["merge_qsm CPU used","copyfile CPU used","func_read-json-me CPU used","func_read-json-se CPU used","nibabel_read-nii CPU used","nibabel_as-canonical CPU used","nibabel_numpy_scale-phase CPU used","nibabel_numpy_nilearn_axial-resampling CPU used","mrt_romeo_combine-phase CPU used","nibabel_numpy_qsm-average CPU used","nibabel_numpy_nilearn_qsm-resampled CPU used","nibabel_numpy_qsm-referenced CPU used","copy_qsm_json_sidecar CPU used","numpy_nibabel_twopass CPU used","nibabel_numpy_twopass-average CPU used","nibabel_numpy_nilearn_twopass-qsm-resampled CPU used","nibabel_numpy_qsm-twopass-referenced CPU used","copy_qsm_twopass_json_sidecar CPU used","nibabel-numpy_combine-magnitude CPU used","func_get-first-phase CPU used","romeo-voxelquality CPU used","scipy_numpy_nibabel_threshold-masking CPU used","nibabel-numpy_normalize-freq CPU used","qsmjl_pdf CPU used","qsmjl_rts CPU used","mrt_romeo CPU used","nibabel-numpy_normalize-phase CPU used","template_datasink CPU used","func_create-qsm-dict CPU used","ants_average-images CPU used","BeginANTS CPU used","MakeTransformsLists CPU used","wimtdeformed CPU used","AvgDeformedImages CPU used","AvgAffineTransform CPU used","AvgWarpImages CPU used"],
        "range": ["#1f77b4","#ff7f0e","#2ca02c","#d62728","#9467bd","#8c564b","#e377c2","#7f7f7f","#bcbd22","#17becf","#1f77b4","#ff7f0e","#2ca02c","#d62728","#9467bd","#8c564b","#e377c2","#7f7f7f","#bcbd22","#17becf","#1f77b4","#ff7f0e","#2ca02c","#d62728","#9467bd","#8c564b","#e377c2","#7f7f7f","#bcbd22","#17becf","#1f77b4","#ff7f0e","#2ca02c","#d62728","#9467bd","#8c564b"]
      },
      "legend": {
        "title": null,
        "orient": "none", "legendX": 1857, "legendY": 8,
        "symbolType": "M-2,0H2", "symbolSize": 225, "symbolStrokeWidth": 2,
        "labelFontSize": 14, "labelFont": "DejaVu Sans", "labelColor": "black", "labelLimit": 700,
        "labelOffset": 18, "symbolOffset": 3,
        "rowPadding": 5, "padding": 4,
        "strokeColor": "#d5d5d5", "fillColor": "white", "cornerRadius": 3,
        "symbolLimit": 100
      }
    },
    "order": {"field": "i", "type": "quantitative"}
  }
}
